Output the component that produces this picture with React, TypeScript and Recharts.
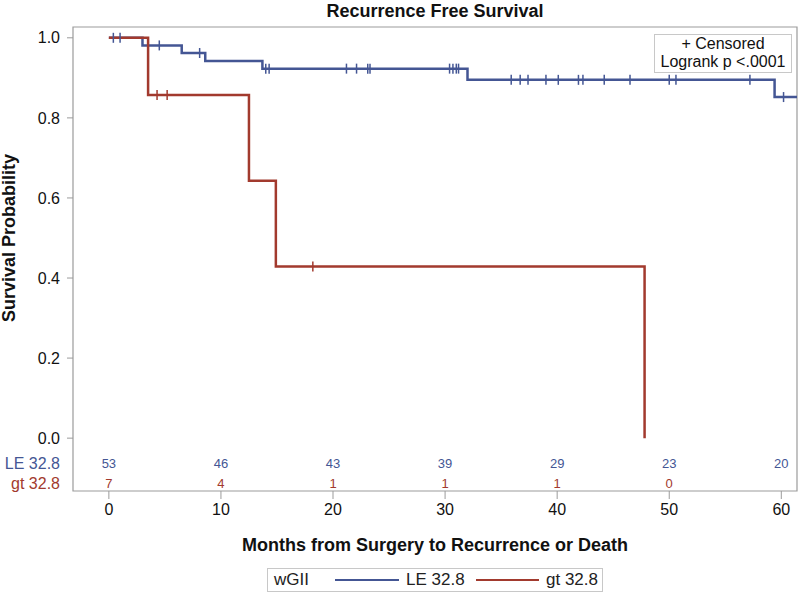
import React from "react";
import {
  ComposedChart,
  Line,
  Scatter,
  XAxis,
  YAxis,
  ReferenceArea,
  Legend,
} from "recharts";

// Kaplan-Meier step points (months, survival probability)
const leTimes = [0, 3.0, 6.5, 8.6, 13.7, 32.0, 59.4, 61.4];
const leSurv = [1, 0.981, 0.962, 0.942, 0.923, 0.895, 0.852, 0.852];
const gtTimes = [0, 3.5, 12.5, 14.9, 47.8];
const gtSurv = [1, 0.857, 0.643, 0.429, 0];

// censored observation times
const leCensored = [
  0.4, 1.0, 4.5, 8.1, 14.0, 14.3, 21.2, 22.1, 23.1, 23.3, 30.4, 30.7, 31.0,
  31.2, 35.9, 36.7, 37.4, 39.0, 40.1, 41.9, 42.3, 44.2, 46.5, 50.0, 50.6, 57.2,
  60.2,
];
const gtCensored = [4.3, 5.2, 18.2];

// number at risk table
const riskTimes = [0, 10, 20, 30, 40, 50, 60];
const leAtRisk = [53, 46, 43, 39, 29, 23, 20];
const gtAtRisk = [7, 4, 1, 1, 1, 0];
const groupLabels = ["LE 32.8", "gt 32.8"];

const yTicks = [0, 0.2, 0.4, 0.6, 0.8, 1.0];

const BLUE = "#445694";
const RED = "#A23A2E";
const FRAME = "#9b9b9b";
const FONT = "'Liberation Sans', Arial, sans-serif";

const X_MIN = -3.2;
const X_MAX = 61.4;
const Y_MIN = -0.132;
const Y_MAX = 1.027;
const KM_AXIS_W = 40;
const RISK_AXIS_W = 33;

const survAt = (times: number[], surv: number[], t: number) => {
  let s = surv[0];
  times.forEach((tt, i) => {
    if (tt <= t) s = surv[i];
  });
  return s;
};

const leLine = leTimes.map((t, i) => ({ t, s: leSurv[i] }));
const gtLine = gtTimes.map((t, i) => ({ t, s: gtSurv[i] }));
const leCens = leCensored.map((t) => ({ t, s: survAt(leTimes, leSurv, t) }));
const gtCens = gtCensored.map((t) => ({ t, s: survAt(gtTimes, gtSurv, t) }));
const leRisk = riskTimes.map((t, i) => ({ t, row: 1, n: leAtRisk[i] }));
const gtRisk = gtAtRisk.map((n, i) => ({ t: riskTimes[i], row: 2, n }));

const censorMark = (color: string) => (props: any) => {
  const { cx, cy } = props;
  return (
    <line x1={cx} x2={cx} y1={cy - 5} y2={cy + 5} stroke={color} strokeWidth={1.5} />
  );
};

const riskText = (color: string) => (props: any) => {
  const { cx, cy, payload } = props;
  return (
    <text
      x={cx}
      y={cy}
      textAnchor="middle"
      dominantBaseline="central"
      fontSize={13}
      fontFamily={FONT}
      fill={color}
    >
      {payload.n}
    </text>
  );
};

// the risk axis sits outside the probability axis, so shift its labels
// over to line up with the probability tick labels
const RiskTick = (props: any) => {
  const { x, y, payload } = props;
  const idx = payload.value - 1;
  return (
    <text
      x={x + KM_AXIS_W}
      y={y}
      textAnchor="end"
      dominantBaseline="central"
      fontSize={16}
      fontFamily={FONT}
      fill={idx === 0 ? BLUE : RED}
    >
      {groupLabels[idx]}
    </text>
  );
};

const LegendBox = () => (
  <div
    style={{
      display: "flex",
      alignItems: "center",
      boxSizing: "border-box",
      border: "1px solid #c8c8c8",
      height: 24,
      width: 336,
      padding: "0 0 0 6px",
      fontFamily: FONT,
      fontSize: 17,
      color: "#222",
      whiteSpace: "nowrap",
    }}
  >
    <span style={{ width: 61 }}>wGII</span>
    <span style={{ width: 64, height: 2.5, background: BLUE, marginRight: 7 }} />
    <span style={{ width: 70 }}>{groupLabels[0]}</span>
    <span style={{ width: 63, height: 2.5, background: RED, marginRight: 7 }} />
    <span>{groupLabels[1]}</span>
  </div>
);

export default function App() {
  return (
    <div style={{ position: "absolute", top: 0, left: 0, width: 800, height: 593, background: "#fff" }}>
      <ComposedChart
        width={800}
        height={593}
        margin={{ top: 27, right: 3, bottom: 32, left: 0 }}
      >
        <text
          x={435}
          y={11}
          textAnchor="middle"
          dominantBaseline="central"
          fontSize={18}
          fontWeight="bold"
          fontFamily={FONT}
          fill="#111"
        >
          Recurrence Free Survival
        </text>
        <XAxis
          dataKey="t"
          type="number"
          domain={[X_MIN, X_MAX]}
          ticks={riskTimes}
          allowDataOverflow
          axisLine={false}
          tickLine={{ stroke: FRAME }}
          tickSize={8}
          tickMargin={5}
          height={70}
          tick={{ fontSize: 16, fontFamily: FONT, fill: "#111" }}
          label={{
            content: (p: any) => (
              <text
                x={p.viewBox.x + p.viewBox.width / 2}
                y={p.viewBox.y + 54}
                textAnchor="middle"
                dominantBaseline="central"
                fontSize={18}
                fontWeight="bold"
                fontFamily={FONT}
                fill="#111"
              >
                Months from Surgery to Recurrence or Death
              </text>
            ),
          }}
        />
        <YAxis
          yAxisId="km"
          dataKey="s"
          type="number"
          domain={[Y_MIN, Y_MAX]}
          ticks={yTicks}
          interval={0}
          allowDataOverflow
          axisLine={false}
          tickLine={{ stroke: FRAME }}
          tickSize={6}
          tickMargin={7}
          width={KM_AXIS_W}
          tickFormatter={(v: number) => v.toFixed(1)}
          tick={{ fontSize: 16, fontFamily: FONT, fill: "#111" }}
          label={{
            content: (p: any) => {
              const cx = 9;
              const cy = p.viewBox.y + (p.viewBox.height * (Y_MAX - 0.5)) / (Y_MAX - Y_MIN);
              return (
                <text
                  x={cx}
                  y={cy}
                  transform={`rotate(-90 ${cx} ${cy})`}
                  textAnchor="middle"
                  dominantBaseline="central"
                  fontSize={18}
                  fontWeight="bold"
                  fontFamily={FONT}
                  fill="#111"
                >
                  Survival Probability
                </text>
              );
            },
          }}
        />
        <YAxis
          yAxisId="risk"
          dataKey="row"
          type="number"
          reversed
          domain={[-20.8, 2.4]}
          ticks={[1, 2]}
          interval={0}
          allowDataOverflow
          axisLine={false}
          tickLine={false}
          tickSize={6}
          tickMargin={7}
          width={RISK_AXIS_W}
          tick={<RiskTick />}
        />
        <ReferenceArea
          yAxisId="km"
          x1={X_MIN}
          x2={X_MAX}
          y1={Y_MIN}
          y2={Y_MAX}
          ifOverflow="visible"
          fill="none"
          fillOpacity={0}
          stroke={FRAME}
          strokeWidth={1.2}
        />
        <Line
          yAxisId="km"
          data={leLine}
          dataKey="s"
          type="stepAfter"
          stroke={BLUE}
          strokeWidth={2.5}
          dot={false}
          activeDot={false}
          isAnimationActive={false}
        />
        <Line
          yAxisId="km"
          data={gtLine}
          dataKey="s"
          type="stepAfter"
          stroke={RED}
          strokeWidth={2.5}
          dot={false}
          activeDot={false}
          isAnimationActive={false}
        />
        <Scatter yAxisId="km" data={leCens} shape={censorMark(BLUE)} isAnimationActive={false} />
        <Scatter yAxisId="km" data={gtCens} shape={censorMark(RED)} isAnimationActive={false} />
        <Scatter yAxisId="risk" data={leRisk} shape={riskText(BLUE)} isAnimationActive={false} />
        <Scatter yAxisId="risk" data={gtRisk} shape={riskText(RED)} isAnimationActive={false} />
        <Legend
          layout="horizontal"
          verticalAlign="middle"
          align="center"
          content={<LegendBox />}
          wrapperStyle={{ top: 568, left: 267, width: 336, height: 24 }}
        />
      </ComposedChart>
      <div
        style={{
          position: "absolute",
          top: 34,
          left: 654,
          width: 136,
          height: 37,
          border: "1px solid #c8c8c8",
          background: "#fff",
          fontFamily: FONT,
          fontSize: 16,
          lineHeight: "18px",
          textAlign: "center",
          color: "#111",
        }}
      >
        <div>+ Censored</div>
        <div>Logrank p &lt;.0001</div>
      </div>
    </div>
  );
}
